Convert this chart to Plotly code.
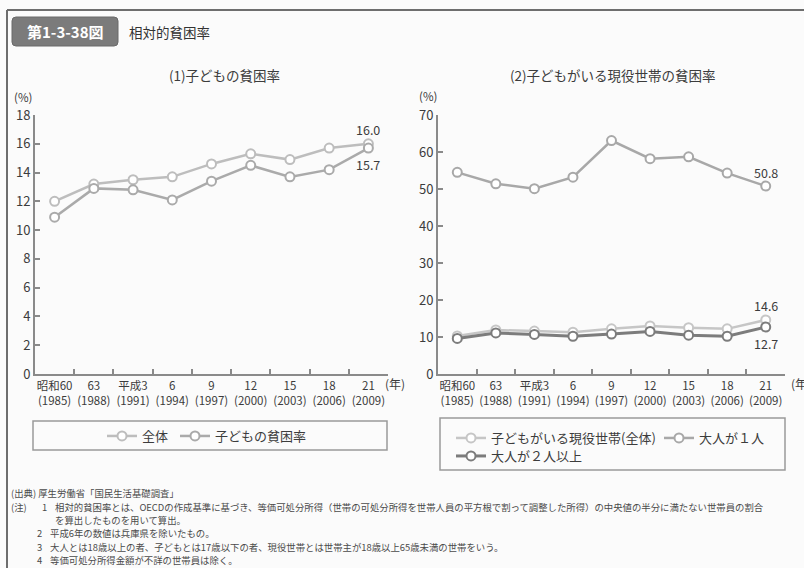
import plotly.graph_objects as go

# ---------------- data ----------------
eras = ["昭和60", "63", "平成3", "6", "9", "12", "15", "18", "21"]
years = ["1985", "1988", "1991", "1994", "1997", "2000", "2003", "2006", "2009"]

overall = [12.0, 13.2, 13.5, 13.7, 14.6, 15.3, 14.9, 15.7, 16.0]       # 全体
child = [10.9, 12.9, 12.8, 12.1, 13.4, 14.5, 13.7, 14.2, 15.7]         # 子どもの貧困率

hh_all = [10.3, 11.9, 11.6, 11.3, 12.2, 13.0, 12.5, 12.2, 14.6]        # 子どもがいる現役世帯(全体)
one_adult = [54.5, 51.4, 50.1, 53.2, 63.1, 58.2, 58.7, 54.3, 50.8]     # 大人が１人
two_adults = [9.6, 11.1, 10.7, 10.2, 10.8, 11.5, 10.5, 10.2, 12.7]     # 大人が２人以上

left_yticks = [0, 2, 4, 6, 8, 10, 12, 14, 16, 18]
right_yticks = [0, 10, 20, 30, 40, 50, 60, 70]

source_note = "(出典) 厚生労働省「国民生活基礎調査」"
note_head = "(注)"
note_nums = ["1", "", "2", "3", "4"]
note_texts = [
    "相対的貧困率とは、OECDの作成基準に基づき、等価可処分所得（世帯の可処分所得を世帯人員の平方根で割って調整した所得）の中央値の半分に満たない世帯員の割合",
    "を算出したものを用いて算出。",
    "平成6年の数値は兵庫県を除いたもの。",
    "大人とは18歳以上の者、子どもとは17歳以下の者、現役世帯とは世帯主が18歳以上65歳未満の世帯をいう。",
    "等価可処分所得金額が不詳の世帯員は除く。",
]

cats = [f"{e}<br>({y})" for e, y in zip(eras, years)]

# ---------------- layout helpers ----------------
W, H = 804, 568
FONT = "Noto Sans CJK JP"
TXT = "#3c3c3c"
AX = "#8a8a8a"


def px(x):
    return x / W


def py(y):
    return 1 - y / H


fig = go.Figure()


def add_series(vals, name, color, xa, ya, legend, width=2.5):
    fig.add_trace(go.Scatter(
        x=cats, y=vals, name=name, mode="lines+markers",
        xaxis=xa, yaxis=ya, legend=legend,
        line=dict(color=color, width=width),
        marker=dict(symbol="circle", size=9, color="white",
                    line=dict(color=color, width=2)),
        hoverinfo="skip",
    ))


add_series(overall, "全体", "#bdbdbd", "x", "y", "legend")
add_series(child, "子どもの貧困率", "#aaaaaa", "x", "y", "legend2")
add_series(hh_all, "子どもがいる現役世帯(全体)", "#c6c6c6", "x2", "y2", "legend3")
add_series(one_adult, "大人が１人", "#a8a8a8", "x2", "y2", "legend4")
add_series(two_adults, "大人が２人以上", "#7c7c7c", "x2", "y2", "legend5", width=3)

xcommon = dict(
    type="category", range=[-0.5, 8.5], tickson="boundaries", tickangle=0,
    ticks="inside", ticklen=5, tickwidth=1.5, tickcolor=AX,
    showline=True, linecolor=AX, linewidth=2, showgrid=False, zeroline=False,
    tickfont=dict(family=FONT, size=11.5, color=TXT), fixedrange=True,
)
ycommon = dict(
    ticks="inside", ticklen=5, tickwidth=1.5, tickcolor=AX,
    showline=True, linecolor=AX, linewidth=2, showgrid=False, zeroline=False,
    tickfont=dict(family=FONT, size=13, color=TXT), fixedrange=True,
)


def leg(x, y):
    return dict(orientation="h", x=px(x), y=py(y), xanchor="left", yanchor="middle",
                bgcolor="rgba(0,0,0,0)", font=dict(family=FONT, size=13, color=TXT),
                itemwidth=30)


fig.update_layout(
    width=W, height=H, margin=dict(l=0, r=0, t=0, b=0, autoexpand=False),
    paper_bgcolor="#fbfbfb", plot_bgcolor="#fbfbfb",
    font=dict(family=FONT, color=TXT),
    xaxis=dict(domain=[px(35), px(388)], anchor="y", **xcommon),
    yaxis=dict(domain=[py(374), py(115)], anchor="x", range=[0, 18],
               tickvals=left_yticks, **ycommon),
    xaxis2=dict(domain=[px(438), px(785)], anchor="y2", **xcommon),
    yaxis2=dict(domain=[py(374), py(115)], anchor="x2", range=[0, 70],
                tickvals=right_yticks, **ycommon),
    legend=leg(102, 436),
    legend2=leg(175, 436),
    legend3=leg(451, 438),
    legend4=leg(659, 438),
    legend5=leg(451, 456),
    showlegend=True,
)

shapes = []
# frame
shapes.append(dict(type="line", xref="paper", yref="paper", x0=px(7), x1=1, y0=py(10), y1=py(10),
                   line=dict(color="#6e6e6e", width=2)))
shapes.append(dict(type="line", xref="paper", yref="paper", x0=px(7), x1=px(7), y0=py(10), y1=0,
                   line=dict(color="#6e6e6e", width=2)))
# title badge (rounded rect)
bx0, bx1, by0, by1, r = 12, 118, 17, 46, 4
path = (f"M{px(bx0 + r)},{py(by0)} L{px(bx1 - r)},{py(by0)} Q{px(bx1)},{py(by0)} {px(bx1)},{py(by0 + r)} "
        f"L{px(bx1)},{py(by1 - r)} Q{px(bx1)},{py(by1)} {px(bx1 - r)},{py(by1)} "
        f"L{px(bx0 + r)},{py(by1)} Q{px(bx0)},{py(by1)} {px(bx0)},{py(by1 - r)} "
        f"L{px(bx0)},{py(by0 + r)} Q{px(bx0)},{py(by0)} {px(bx0 + r)},{py(by0)} Z")
shapes.append(dict(type="path", xref="paper", yref="paper", path=path,
                   fillcolor="#7b7b7b", line=dict(color="#6a6a6a", width=1)))
# legend boxes
shapes.append(dict(type="rect", xref="paper", yref="paper", x0=px(33), x1=px(387), y0=py(421), y1=py(450),
                   line=dict(color="#9a9a9a", width=1.5), fillcolor="rgba(0,0,0,0)"))
shapes.append(dict(type="rect", xref="paper", yref="paper", x0=px(440), x1=px(785), y0=py(418), y1=py(470),
                   line=dict(color="#9a9a9a", width=1.5), fillcolor="rgba(0,0,0,0)"))
fig.update_layout(shapes=shapes)

ann = []


def text(x, y, s, size=12, xanchor="left", color=TXT, yanchor="middle", **kw):
    ann.append(dict(xref="paper", yref="paper", x=px(x), y=py(y), text=s, showarrow=False,
                    xanchor=xanchor, yanchor=yanchor,
                    font=dict(family=FONT, size=size, color=color), **kw))


text(65, 31.5, "<b>第1-3-38図</b>", size=15, xanchor="center", color="white")
text(127, 32, "相対的貧困率", size=13.5, color="#333333")
text(224, 75, "(1)子どもの貧困率", size=13.5, xanchor="center")
text(613, 75, "(2)子どもがいる現役世帯の貧困率", size=13.5, xanchor="center")
text(12, 96.5, "(%)", size=11.5)
text(417, 96, "(%)", size=11.5)
text(383, 383, "(年)", size=12)
text(789, 383, "(年)", size=12)

# notes
NS = 9.4
text(9, 493, source_note, size=NS, color="#4a4a4a")
text(9, 507, note_head, size=NS, color="#4a4a4a")
note_y = [507, 520, 533, 547, 560]
num_x = [40, 40, 35, 35, 35]
txt_x = [53, 53, 48, 48, 48]
for n, t, yy, nx, tx in zip(note_nums, note_texts, note_y, num_x, txt_x):
    if n:
        text(nx, yy, n, size=NS, color="#4a4a4a")
    text(tx, yy, t, size=NS, color="#4a4a4a")


# value labels at the last points (data coordinates)
def vlabel(xa, ya, vals, shift):
    ann.append(dict(xref=xa, yref=ya, x=cats[-1], y=vals[-1], text=f"{vals[-1]:.1f}",
                    showarrow=False, yshift=shift, xanchor="center", yanchor="middle",
                    font=dict(family=FONT, size=12.5, color=TXT)))


vlabel("x", "y", overall, 14)
vlabel("x", "y", child, -16)
vlabel("x2", "y2", one_adult, 14)
vlabel("x2", "y2", hh_all, 14)
vlabel("x2", "y2", two_adults, -16)

fig.update_layout(annotations=ann)

fig.write_html("out.html")
